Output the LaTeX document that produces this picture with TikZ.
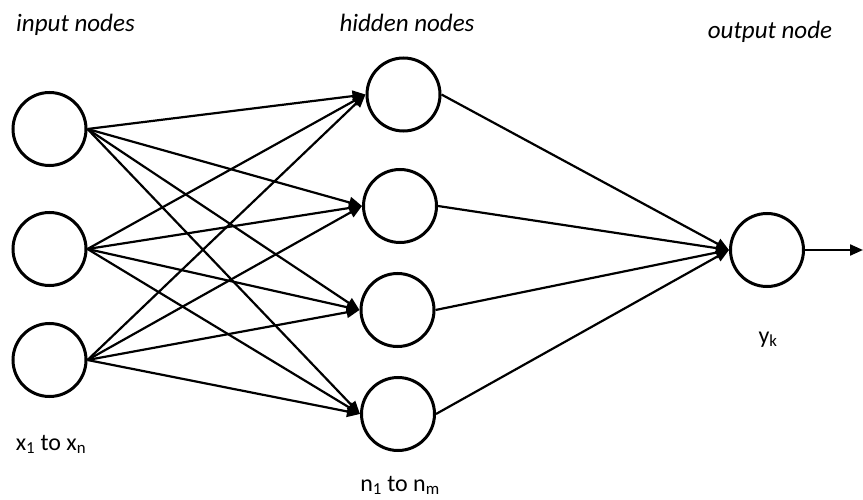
\documentclass[tikz,border=0pt]{standalone}
\usepackage{fontspec}
\setmainfont{Carlito}
\usetikzlibrary{arrows.meta}
\tikzset{
  neuron/.style={circle,draw,line width=3pt,minimum size=73pt,inner sep=0pt},
  link/.style={line width=2.2pt,-{Triangle[length=13pt,width=11pt]}},
  title/.style={anchor=base,font=\fontsize{25}{28}\selectfont\itshape,inner sep=0pt},
  lab/.style={anchor=base,font=\fontsize{24}{27}\selectfont,inner sep=0pt}
}
\begin{document}
\begin{tikzpicture}[x=1pt,y=1pt]
\useasboundingbox (0,0) rectangle (863,-500);
\node[neuron] (i1) at (49.5,-129) {};
\node[neuron] (i2) at (49.5,-249) {};
\node[neuron] (i3) at (49.5,-360) {};
\node[neuron] (h1) at (403.5,-94.5) {};
\node[neuron] (h2) at (400,-206) {};
\node[neuron] (h3) at (397.5,-310) {};
\node[neuron] (h4) at (398,-414) {};
\node[neuron] (o) at (767,-250) {};
\coordinate (out) at (863,-250);
\foreach \i in {i1,i2,i3}{
  \foreach \h in {h1,h2,h3,h4}{
    \draw[link] (\i.east) -- (\h.west);
  }
}
\foreach \h in {h1,h2,h3,h4}{
  \draw[link] (\h.east) -- (o.west);
}
\draw[link] (o.east) -- (out);
\node[title] (t1) at (75.5,-32) {input nodes};
\node[title] (t2) at (407,-32) {hidden nodes};
\node[title] (t3) at (770,-39) {output node};
\node[lab] (l1) at (51,-450) {x\textsubscript{1} to x\textsubscript{n}};
\node[lab] (l2) at (400,-491) {n\textsubscript{1} to n\textsubscript{m}};
\node[lab] (l3) at (768,-343) {y\textsubscript{k}};
\end{tikzpicture}
\end{document}
